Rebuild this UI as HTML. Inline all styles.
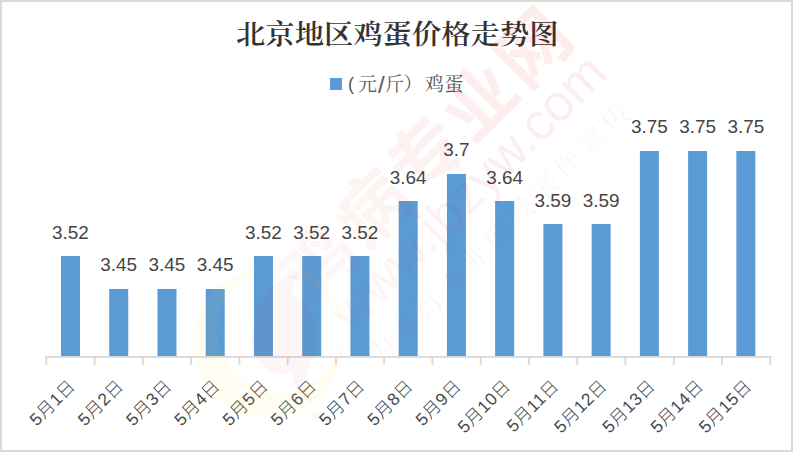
<!DOCTYPE html>
<html lang="zh-CN"><head><meta charset="utf-8"><title>北京地区鸡蛋价格走势图</title>
<style>
html,body{margin:0;padding:0;background:#fff;}
body{width:794px;height:452px;overflow:hidden;}
svg{display:block;}
.t{font-family:"Liberation Serif","Noto Serif CJK SC",serif;font-weight:600;font-size:29.33px;fill:#333;}
.lg{font-family:"Liberation Sans","Noto Serif CJK SC",serif;font-weight:400;font-size:19px;fill:#595959;}
.dl{font-family:"Liberation Sans","Noto Sans CJK SC",sans-serif;font-size:18.9px;fill:#454545;}
.xl{font-family:"Liberation Sans","Noto Sans CJK SC",sans-serif;font-weight:300;font-size:17.3px;letter-spacing:0.6px;fill:#484848;}
.wm1{font-family:"Liberation Sans","Noto Sans CJK SC",sans-serif;font-weight:700;font-size:72px;letter-spacing:4px;}
.wm2{font-family:"Liberation Sans","Noto Sans CJK SC",sans-serif;font-weight:400;font-size:52px;}
.wm3{font-family:"Liberation Serif","Noto Serif CJK SC",serif;font-weight:300;font-size:28px;letter-spacing:5px;fill:#e60000;fill-opacity:0.06;}
</style></head><body>
<svg width="794" height="452" viewBox="0 0 794 452">
<rect x="0" y="0" width="794" height="452" fill="#fff"/>
<rect x="1" y="1" width="791" height="450" fill="none" stroke="#d9d9d9" stroke-width="2"/>

<g fill="#5b9bd5">
<rect x="61.00" y="256.00" width="19.0" height="100.00"/>
<rect x="109.24" y="289.00" width="19.0" height="67.00"/>
<rect x="157.48" y="289.00" width="19.0" height="67.00"/>
<rect x="205.72" y="289.00" width="19.0" height="67.00"/>
<rect x="253.96" y="256.00" width="19.0" height="100.00"/>
<rect x="302.20" y="256.00" width="19.0" height="100.00"/>
<rect x="350.44" y="256.00" width="19.0" height="100.00"/>
<rect x="398.68" y="201.00" width="19.0" height="155.00"/>
<rect x="446.92" y="174.00" width="19.0" height="182.00"/>
<rect x="495.16" y="201.00" width="19.0" height="155.00"/>
<rect x="543.40" y="224.00" width="19.0" height="132.00"/>
<rect x="591.64" y="224.00" width="19.0" height="132.00"/>
<rect x="639.88" y="151.00" width="19.0" height="205.00"/>
<rect x="688.12" y="151.00" width="19.0" height="205.00"/>
<rect x="736.36" y="151.00" width="19.0" height="205.00"/>
</g>
<g fill="#d9d9d9"><rect x="45.4" y="356" width="725.9" height="1.8"/>
<rect x="45.40" y="356" width="1.9" height="8.8"/>
<rect x="93.66" y="356" width="1.9" height="8.8"/>
<rect x="141.92" y="356" width="1.9" height="8.8"/>
<rect x="190.18" y="356" width="1.9" height="8.8"/>
<rect x="238.44" y="356" width="1.9" height="8.8"/>
<rect x="286.70" y="356" width="1.9" height="8.8"/>
<rect x="334.96" y="356" width="1.9" height="8.8"/>
<rect x="383.22" y="356" width="1.9" height="8.8"/>
<rect x="431.48" y="356" width="1.9" height="8.8"/>
<rect x="479.74" y="356" width="1.9" height="8.8"/>
<rect x="528.00" y="356" width="1.9" height="8.8"/>
<rect x="576.26" y="356" width="1.9" height="8.8"/>
<rect x="624.52" y="356" width="1.9" height="8.8"/>
<rect x="672.78" y="356" width="1.9" height="8.8"/>
<rect x="721.04" y="356" width="1.9" height="8.8"/>
<rect x="769.30" y="356" width="1.9" height="8.8"/>
</g>
<g class="dl" text-anchor="middle">
<text x="70.50" y="239.10">3.52</text>
<text x="118.74" y="271.10">3.45</text>
<text x="166.98" y="271.10">3.45</text>
<text x="215.22" y="271.10">3.45</text>
<text x="263.46" y="239.10">3.52</text>
<text x="311.70" y="239.10">3.52</text>
<text x="359.94" y="239.10">3.52</text>
<text x="408.18" y="184.00">3.64</text>
<text x="456.42" y="156.00">3.7</text>
<text x="504.66" y="184.00">3.64</text>
<text x="552.90" y="207.10">3.59</text>
<text x="601.14" y="207.10">3.59</text>
<text x="649.38" y="132.60">3.75</text>
<text x="697.62" y="132.60">3.75</text>
<text x="745.86" y="132.60">3.75</text>
</g>
<g class="xl" text-anchor="end">
<text transform="translate(76.50,387.00) rotate(-45)" x="0" y="0">5月1日</text>
<text transform="translate(124.74,387.00) rotate(-45)" x="0" y="0">5月2日</text>
<text transform="translate(172.98,387.00) rotate(-45)" x="0" y="0">5月3日</text>
<text transform="translate(221.22,387.00) rotate(-45)" x="0" y="0">5月4日</text>
<text transform="translate(269.46,387.00) rotate(-45)" x="0" y="0">5月5日</text>
<text transform="translate(317.70,387.00) rotate(-45)" x="0" y="0">5月6日</text>
<text transform="translate(365.94,387.00) rotate(-45)" x="0" y="0">5月7日</text>
<text transform="translate(414.18,387.00) rotate(-45)" x="0" y="0">5月8日</text>
<text transform="translate(462.42,387.00) rotate(-45)" x="0" y="0">5月9日</text>
<text transform="translate(511.66,387.00) rotate(-45)" x="0" y="0">5月10日</text>
<text transform="translate(559.90,387.00) rotate(-45)" x="0" y="0">5月11日</text>
<text transform="translate(608.14,387.00) rotate(-45)" x="0" y="0">5月12日</text>
<text transform="translate(656.38,387.00) rotate(-45)" x="0" y="0">5月13日</text>
<text transform="translate(704.62,387.00) rotate(-45)" x="0" y="0">5月14日</text>
<text transform="translate(752.86,387.00) rotate(-45)" x="0" y="0">5月15日</text>
</g>
<text class="t" transform="translate(236.0,44.3) scale(1,0.93)">北京地区鸡蛋价格走势图</text>
<rect x="330" y="78" width="12" height="12" fill="#5b9bd5"/>
<text class="lg" x="348 358 378 385 403.5 425 444.6" dy="-1.2 1.5 1.5 -1.5 0 0 0" y="90.7"><tspan font-size="18">(</tspan>元<tspan font-size="24">/</tspan>斤）鸡蛋</text>
<defs>
<linearGradient id="g1" gradientUnits="userSpaceOnUse" x1="-380" y1="0" x2="0" y2="0"><stop offset="0" stop-color="#e60000" stop-opacity="0.03"/><stop offset="0.55" stop-color="#e60000" stop-opacity="0.058"/><stop offset="1" stop-color="#e60000" stop-opacity="0.078"/></linearGradient>
<linearGradient id="g2" gradientUnits="userSpaceOnUse" x1="0" y1="0" x2="370" y2="0"><stop offset="0" stop-color="#e60000" stop-opacity="0.035"/><stop offset="0.55" stop-color="#e60000" stop-opacity="0.065"/><stop offset="1" stop-color="#e60000" stop-opacity="0.075"/></linearGradient>
</defs>
<g>
<path d="M268 267a75 75 0 1 0 0.1 0zM280 267a63 63 0 1 1 -0.1 0z" fill="#ffcc33" fill-opacity="0.065" fill-rule="evenodd"/>
<path d="M262 300c8-14 22-24 38-26c-6 8-8 14-8 22c10 2 18 10 22 22c6 18 2 36 -6 52c-4 10 -2 22 6 34c-14-6 -22-18 -22-32c-12 4 -26 0 -34-12c-8-12 -8-26 -2-38c-4-8 -2-16 6-22z" fill="#e60000" fill-opacity="0.035"/>
<circle cx="316" cy="416" r="4" fill="#e60000" fill-opacity="0.04"/>
<text class="wm1" fill="url(#g1)" text-anchor="end" transform="translate(579.7,37.7) rotate(-45)">鸡病专业网</text>
<text class="wm2" fill="url(#g2)" transform="translate(352,333) rotate(-45)">www.jbzyw.com</text>
<text class="wm3" transform="translate(378.6,367.4) rotate(-45)">为本行本业的发展作宣传</text>
</g>
</svg></body></html>
